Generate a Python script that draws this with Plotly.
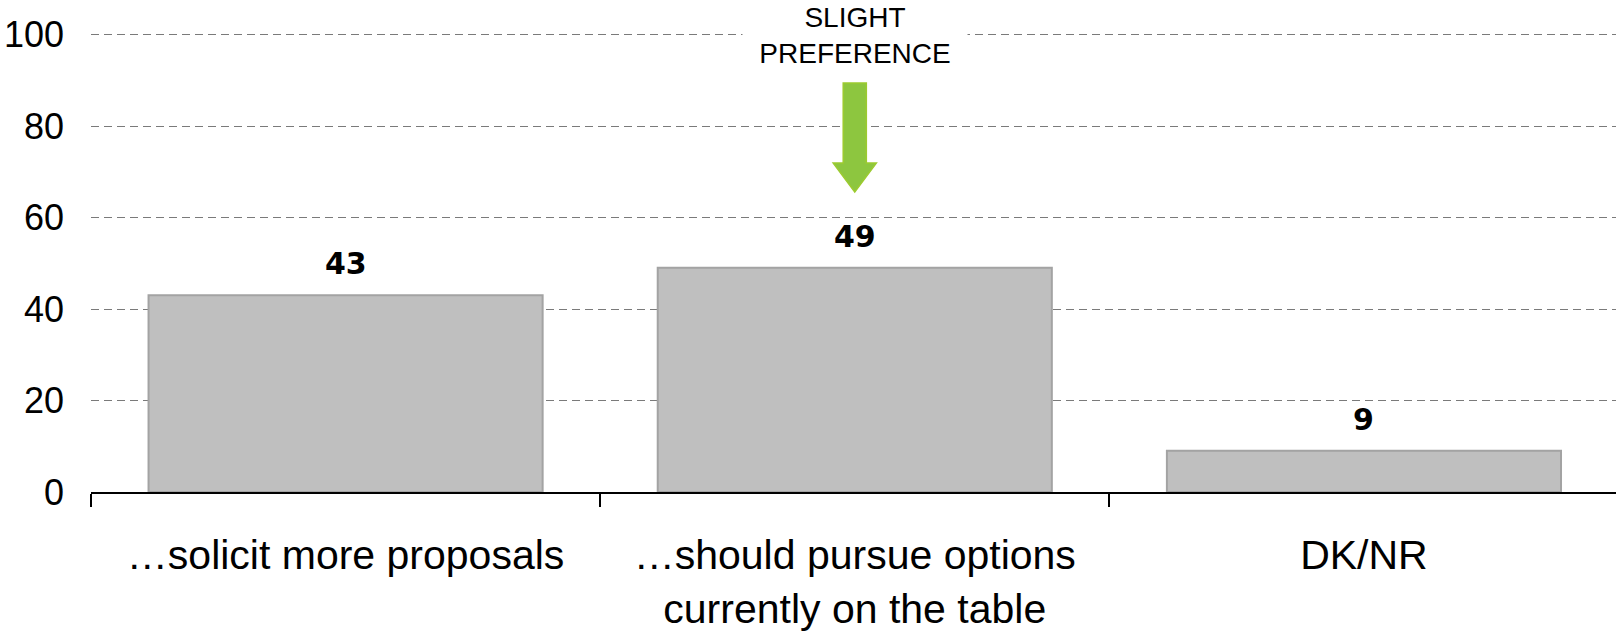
import plotly.graph_objects as go

categories = ["…solicit more proposals", "…should pursue options<br>currently on the table", "DK/NR"]
values = [43, 49, 9]
y_ticks = [0, 20, 40, 60, 80, 100]
callout_text = "SLIGHT<br>PREFERENCE"
callout_index = 1

fig = go.Figure()
fig.add_trace(go.Bar(
    x=categories, y=values,
    marker=dict(color="#BFBFBF", line=dict(color="#A3A3A3", width=2)),
    hoverinfo="skip",
))

for c, v in zip(categories, values):
    fig.add_annotation(
        x=c, y=v, xref="x", yref="y", text=f"<b>{v}</b>", showarrow=False,
        yanchor="bottom", yshift=12,
        font=dict(family="DejaVu Sans", size=30, color="black"),
    )

# green arrow pointing at the preferred option
cx = callout_index
sw, hw = 0.0227, 0.0424
y_top, y_base, y_tip = 89.4, 71.9, 65.6
path = (f"M {cx-sw},{y_top} L {cx+sw},{y_top} L {cx+sw},{y_base} L {cx+hw},{y_base} "
        f"L {cx},{y_tip} L {cx-hw},{y_base} L {cx-sw},{y_base} Z")
fig.add_shape(type="path", path=path, xref="x", yref="y",
              fillcolor="#8DC63F", line=dict(color="#9CCB2F", width=1.5), layer="above")

fig.add_annotation(
    x=categories[callout_index], y=100, xref="x", yref="y", text=callout_text,
    showarrow=False, yanchor="middle", yshift=-1, width=224, bgcolor="white",
    borderpad=0, font=dict(family="Liberation Sans", size=28, color="black"),
)

fig.update_layout(
    width=1616, height=637, autosize=False,
    margin=dict(l=91, r=0, t=30, b=145),
    plot_bgcolor="white", paper_bgcolor="white",
    bargap=0.226, showlegend=False,
    xaxis=dict(
        range=[-0.5, 2.495],
        showline=True, linecolor="black", linewidth=2, automargin=False,
        ticks="outside", tickson="boundaries", ticklen=13, tickwidth=1.5, tickcolor="black",
        showgrid=False, ticklabelstandoff=26,
        tickfont=dict(family="Liberation Sans", size=41, color="black"),
    ),
    yaxis=dict(
        range=[0, 101], tickvals=y_ticks, showline=False, zeroline=False, automargin=False,
        showgrid=True, gridcolor="#7A7A7A", gridwidth=1.2, griddash="8px,5px",
        ticks="", ticklabelstandoff=26,
        tickfont=dict(family="Liberation Sans", size=36, color="black"),
    ),
)

fig.write_html(
    "out.html",
    config={"displayModeBar": False},
    post_script="document.body.style.margin='0';document.body.style.overflow='hidden';",
)
